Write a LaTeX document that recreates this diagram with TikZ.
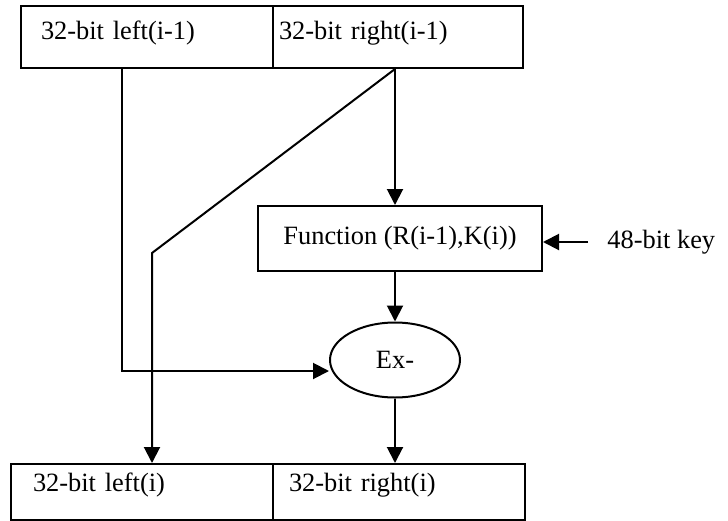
\documentclass[tikz,border=0pt]{standalone}
\usepackage{fontspec}
\setmainfont{Liberation Serif}
\usetikzlibrary{arrows.meta, shapes.geometric}

\begin{document}
\begin{tikzpicture}[
    x=0.5pt, y=-0.5pt,
    punkt/.style = {rectangle, draw, line width=1pt, anchor=north west, align=left},
    pil/.style = {black, line width=1pt, -{Triangle[length=8pt,width=8pt]}},
    font=\fontsize{13.2}{15}\selectfont
    ]
  \useasboundingbox (0,0) rectangle (728,520);

  % round i-1
  \node[punkt, minimum width=126pt, minimum height=31pt, inner xsep=10pt, text width=106pt, text depth=7pt] (lprev) at (20,5) {32-bit left(i-1)} ;
  \node[punkt, minimum width=125pt, minimum height=31pt, inner xsep=3pt, text width=119pt, text depth=7pt] (rprev) at (272,5) {32-bit right(i-1)} ;

  \node[rectangle, draw, line width=1pt, minimum width=142pt, minimum height=32.5pt] (fn) at (400,238.5) {Function (R(i-1),K(i))} ;
  \node[anchor=west, inner xsep=9.5pt, inner ysep=0pt] (key) at (588,242) {48-bit key} ;
  \node[ellipse, draw, line width=1pt, inner sep=0pt, minimum width=65pt, minimum height=37.5pt] (ex) at (395,360) {Ex-} ;

  % round i
  \node[punkt, minimum width=131pt, minimum height=28pt, inner xsep=11pt, text width=109pt, text depth=10pt] (lcur) at (10,463) {32-bit left(i)} ;
  \node[punkt, minimum width=126pt, minimum height=28pt, inner xsep=8pt, text width=110pt, text depth=10pt] (rcur) at (272,463) {32-bit right(i)} ;

  \coordinate (lbend) at (122,371) ;
  \coordinate (dbend) at (152,253) ;

  \draw[pil] (lprev.south -| lbend) -- (lbend) -- (ex.west |- lbend) ;
  \draw[pil] (rprev.south -| ex) -- (fn.north -| ex) ;
  \draw[pil] (rprev.south -| ex) -- (dbend) -- (lcur.north -| dbend) ;
  \draw[pil] (key.west) -- (key.west -| fn.east) ;
  \draw[pil] (fn.south -| ex) -- (ex) ;
  \draw[pil] (ex) -- (rcur.north -| ex) ;
\end{tikzpicture}
\end{document}
